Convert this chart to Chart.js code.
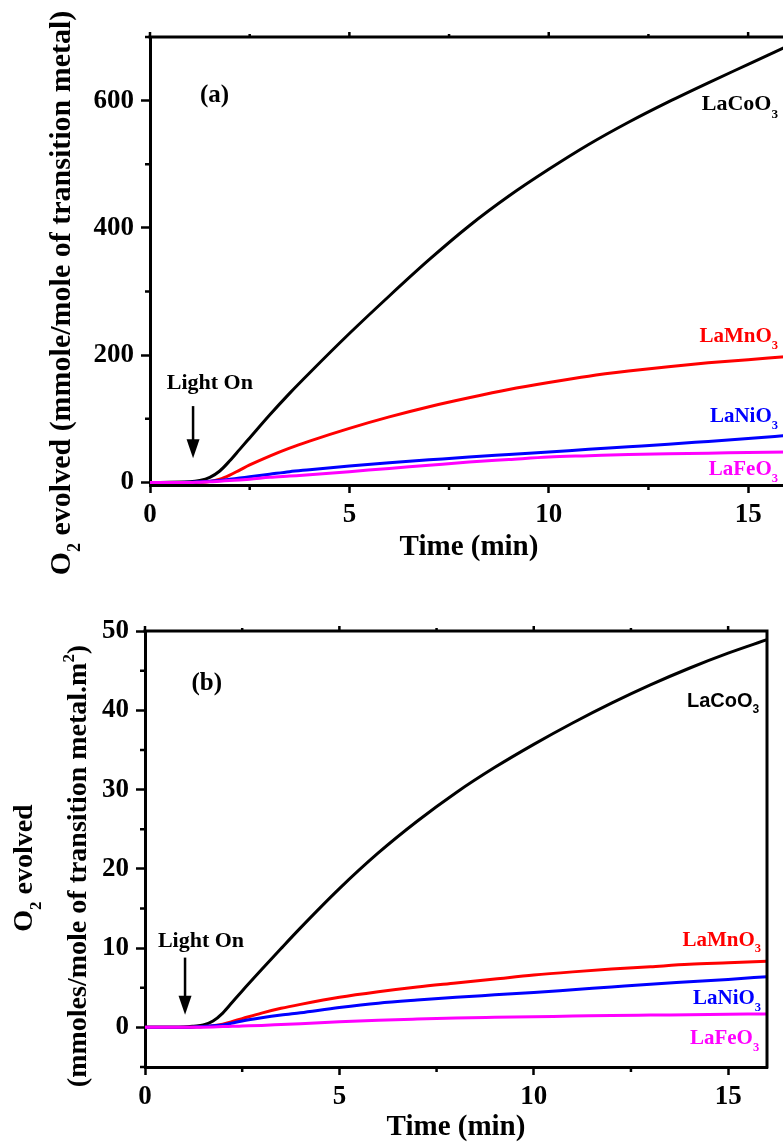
<!DOCTYPE html>
<html>
<head>
<meta charset="utf-8">
<script src="https://cdn.jsdelivr.net/npm/chart.js@4.4.0/dist/chart.umd.min.js"></script>
<style>
  html, body { margin: 0; padding: 0; background: #fff; overflow: hidden; width: 783px; height: 1142px; }
  .panel { position: absolute; left: 0; }
  #wrapA { top: 0; }
  #wrapB { top: 600px; }
</style>
</head>
<body>
<div class="panel" id="wrapA"><canvas id="chartA" width="800" height="580"></canvas></div>
<div class="panel" id="wrapB"><canvas id="chartB" width="783" height="560"></canvas></div>
<script>
// sample names and colours
const names = ["LaCoO3", "LaMnO3", "LaNiO3", "LaFeO3"];
const colors = ["#000000", "#ff0000", "#0000ff", "#ff00ff"];

// (a) O2 evolved, mmole per mole of transition metal
const timeA = [0, 1, 1.25, 1.5, 1.75, 2, 2.25, 2.5, 3, 3.5, 4, 5, 6, 7, 8, 9, 10, 11, 12, 13, 14, 15, 16];
const coA = [0, 1, 3, 8, 18, 34, 52, 70, 106, 140, 172, 234, 293, 350, 403, 450, 492, 531, 566, 598, 628, 657, 686];
const mnA = [0, 0, 0.3, 1.5, 5, 11.5, 19.5, 27.5, 41.5, 54, 65, 85, 103, 119, 133, 146, 157, 167, 175, 182, 188, 193, 198];
const niA = [0, 0.5, 1, 2, 3, 5, 7, 9, 13, 17, 20, 26, 31, 35.5, 40, 44, 48, 52, 56, 60, 64.5, 69, 74];
const feA = [0, 0, 0.5, 1, 2, 3, 4, 5, 8, 10, 12, 17, 22, 27, 32, 36, 40, 42, 44, 45, 46, 47, 48];

// (b) O2 evolved, mmoles per mole of transition metal per m2
const timeB = [0, 1, 1.25, 1.5, 1.75, 2, 2.25, 2.5, 3, 3.5, 4, 5, 6, 7, 8, 9, 10, 11, 12, 13, 14, 15, 16];
const coB = [0, 0.05, 0.15, 0.3, 0.8, 1.8, 3.2, 4.6, 7.3, 9.95, 12.55, 17.5, 22.0, 26.0, 29.6, 32.8, 35.7, 38.4, 40.9, 43.2, 45.3, 47.2, 48.9];
const mnB = [0, 0, 0.05, 0.1, 0.2, 0.4, 0.75, 1.1, 1.8, 2.4, 2.9, 3.8, 4.5, 5.1, 5.6, 6.1, 6.6, 7.0, 7.35, 7.65, 7.95, 8.15, 8.35];
const niB = [0, 0, 0.05, 0.1, 0.2, 0.3, 0.55, 0.8, 1.2, 1.55, 1.85, 2.5, 3.05, 3.45, 3.8, 4.1, 4.4, 4.75, 5.1, 5.45, 5.75, 6.05, 6.4];
const feB = [0, 0, 0, 0.02, 0.05, 0.1, 0.13, 0.17, 0.25, 0.35, 0.45, 0.7, 0.9, 1.05, 1.18, 1.27, 1.35, 1.42, 1.5, 1.55, 1.6, 1.65, 1.7];

const SERIF = "'Times New Roman', 'Liberation Serif', serif";
const SANS = "Arial, 'Liberation Sans', sans-serif";

// split "LaCoO3" into text parts, digits as subscripts
function chem(name) {
    return name.split(/(\d+)/).filter(s => s).map(s => [s, /^\d+$/.test(s) ? -1 : 0]);
}

// draw text with sub/superscripts, y is the vertical middle
function drawRich(ctx, parts, x, y, size, family, color, align) {
    const small = size * 0.6;
    const widths = parts.map(([t, m]) => {
        ctx.font = "bold " + (m ? small : size) + "px " + family;
        return ctx.measureText(t).width;
    });
    const total = widths.reduce((s, w) => s + w, 0);
    let cx = align === "right" ? x - total : align === "center" ? x - total / 2 : x;
    const base = y + size * 0.33;
    ctx.fillStyle = color;
    ctx.textAlign = "left";
    ctx.textBaseline = "alphabetic";
    parts.forEach(([t, m], i) => {
        ctx.font = "bold " + (m ? small : size) + "px " + family;
        const dy = m === -1 ? size * 0.33 : m === 1 ? -size * 0.45 : 0;
        ctx.fillText(t, cx, base + dy);
        cx += widths[i];
    });
}

function minorValues(scale) {
    const v = scale.ticks.map(t => t.value);
    const step = v[1] - v[0];
    const out = [];
    for (let m = v[0] - step / 2; m <= scale.max + 1e-9; m += step) {
        if (m >= scale.min - 1e-9) out.push(m);
    }
    return out;
}

const notesPlugin = {
    id: "notes",
    afterDraw(chart, args, opts) {
        const { ctx, chartArea: a, scales: { x, y } } = chart;
        ctx.save();
        ctx.strokeStyle = "#000";
        ctx.lineWidth = 3;
        ctx.lineCap = "square";
        // top (and right) frame
        ctx.beginPath();
        ctx.moveTo(a.left, a.top);
        ctx.lineTo(a.right, a.top);
        if (opts.rightBorder) ctx.lineTo(a.right, a.bottom);
        ctx.stroke();

        // minor ticks + mirror ticks on top
        ctx.lineWidth = 2.5;
        ctx.lineCap = "butt";
        ctx.beginPath();
        minorValues(x).forEach(v => {
            const px = x.getPixelForValue(v);
            ctx.moveTo(px, a.bottom); ctx.lineTo(px, a.bottom + 5);
            ctx.moveTo(px, a.top); ctx.lineTo(px, a.top - 3);
        });
        x.ticks.forEach(t => {
            const px = x.getPixelForValue(t.value);
            ctx.moveTo(px, a.top); ctx.lineTo(px, a.top - 5);
        });
        minorValues(y).forEach(v => {
            const py = y.getPixelForValue(v);
            ctx.moveTo(a.left, py); ctx.lineTo(a.left - 5, py);
        });
        ctx.stroke();

        // y axis title (rotated)
        opts.yTitle.forEach(line => {
            ctx.save();
            ctx.translate(line.x, line.y);
            ctx.rotate(-Math.PI / 2);
            drawRich(ctx, line.parts, 0, 0, line.size, SERIF, "#000", "center");
            ctx.restore();
        });

        // panel tag
        drawRich(ctx, [[opts.tag.text, 0]], x.getPixelForValue(opts.tag.t), y.getPixelForValue(opts.tag.v), opts.tag.size, SERIF, "#000", "center");

        // Light On + arrow
        const L = opts.light;
        drawRich(ctx, [["Light On", 0]], x.getPixelForValue(L.t), y.getPixelForValue(L.v), L.size, SERIF, "#000", "center");
        const ax = x.getPixelForValue(L.arrowT);
        const y1 = y.getPixelForValue(L.from);
        const y2 = y.getPixelForValue(L.to);
        ctx.lineWidth = 2.5;
        ctx.beginPath();
        ctx.moveTo(ax, y1); ctx.lineTo(ax, y2 - 16);
        ctx.stroke();
        ctx.fillStyle = "#000";
        ctx.beginPath();
        ctx.moveTo(ax - 6.5, y2 - 19);
        ctx.lineTo(ax + 6.5, y2 - 19);
        ctx.lineTo(ax, y2);
        ctx.closePath();
        ctx.fill();

        // series labels
        opts.labels.forEach(l => {
            drawRich(ctx, chem(l.name), x.getPixelForValue(l.t), y.getPixelForValue(l.v), l.size, l.family || SERIF, l.color, "right");
        });
        ctx.restore();
    }
};

function makeDatasets(time, series) {
    // draw order: later datasets underneath, so put LaFeO3 first
    return [3, 2, 1, 0].map(i => ({
        label: names[i],
        data: time.map((t, k) => ({ x: t, y: series[i][k] })),
        borderColor: colors[i],
        backgroundColor: colors[i],
        borderWidth: 3,
        pointRadius: 0,
        cubicInterpolationMode: "monotone",
        fill: false
    }));
}

function makeOptions(cfg) {
    const tickFont = { family: SERIF, size: 27, weight: "bold" };
    return {
        responsive: false,
        animation: false,
        devicePixelRatio: 1,
        layout: { padding: cfg.padding },
        plugins: { legend: { display: false }, tooltip: { enabled: false }, notes: cfg.notes },
        scales: {
            x: {
                type: "linear",
                min: 0,
                max: 16,
                afterFit: s => { s.height = cfg.xHeight; },
                ticks: { stepSize: 5, includeBounds: false, padding: 6, color: "#000", font: tickFont, maxRotation: 0, autoSkip: false },
                grid: { drawOnChartArea: false, drawTicks: true, tickLength: 8, tickWidth: 2.5, tickColor: "#000" },
                border: { display: true, color: "#000", width: 3 },
                title: { display: true, text: "Time (min)", color: "#000", font: { family: SERIF, size: 29, weight: "bold" }, padding: { top: 0, bottom: 15 } }
            },
            y: {
                type: "linear",
                min: cfg.yMin,
                max: cfg.yMax,
                afterFit: s => { s.width = cfg.yWidth; },
                ticks: { stepSize: cfg.yStep, includeBounds: false, padding: 7, color: "#000", font: tickFont, autoSkip: false },
                grid: { drawOnChartArea: false, drawTicks: true, tickLength: 9, tickWidth: 2.5, tickColor: "#000" },
                border: { display: true, color: "#000", width: 3 }
            }
        }
    };
}

new Chart(document.getElementById("chartA"), {
    type: "line",
    data: { datasets: makeDatasets(timeA, [coA, mnA, niA, feA]) },
    plugins: [notesPlugin],
    options: makeOptions({
        padding: { top: 37, right: 12, left: 0, bottom: 0 },
        xHeight: 95,
        yWidth: 150,
        yMin: -4,
        yMax: 700,
        yStep: 200,
        notes: {
            rightBorder: false,
            yTitle: [
                { x: 60, y: 293, size: 30, parts: [["O", 0], ["2", -1], [" evolved (mmole/mole of transition metal)", 0]] }
            ],
            tag: { text: "(a)", t: 1.62, v: 611, size: 25 },
            light: { t: 1.5, v: 159, size: 22, arrowT: 1.08, from: 120, to: 38 },
            labels: [
                { name: names[0], t: 15.75, v: 596, size: 22, color: colors[0] },
                { name: names[1], t: 15.75, v: 231, size: 21, color: colors[1] },
                { name: names[2], t: 15.75, v: 106, size: 21, color: colors[2] },
                { name: names[3], t: 15.75, v: 23, size: 21, color: colors[3] }
            ]
        }
    })
});

new Chart(document.getElementById("chartB"), {
    type: "line",
    data: { datasets: makeDatasets(timeB, [coB, mnB, niB, feB]) },
    plugins: [notesPlugin],
    options: makeOptions({
        padding: { top: 31, right: 16, left: 0, bottom: 0 },
        xHeight: 93,
        yWidth: 145,
        yMin: -5,
        yMax: 50,
        yStep: 10,
        notes: {
            rightBorder: true,
            yTitle: [
                { x: 23, y: 268, size: 28, parts: [["O", 0], ["2", -1], [" evolved", 0]] },
                { x: 77, y: 266, size: 28, parts: [["(mmoles/mole of transition metal.m", 0], ["2", 1], [")", 0]] }
            ],
            tag: { text: "(b)", t: 1.59, v: 43.6, size: 25 },
            light: { t: 1.44, v: 11, size: 22, arrowT: 1.03, from: 8.8, to: 1.6 },
            labels: [
                { name: names[0], t: 15.8, v: 41.3, size: 20, color: colors[0], family: SANS },
                { name: names[1], t: 15.85, v: 11.2, size: 21, color: colors[1] },
                { name: names[2], t: 15.85, v: 3.8, size: 21, color: colors[2] },
                { name: names[3], t: 15.8, v: -1.2, size: 21, color: colors[3] }
            ]
        }
    })
});
</script>
</body>
</html>
